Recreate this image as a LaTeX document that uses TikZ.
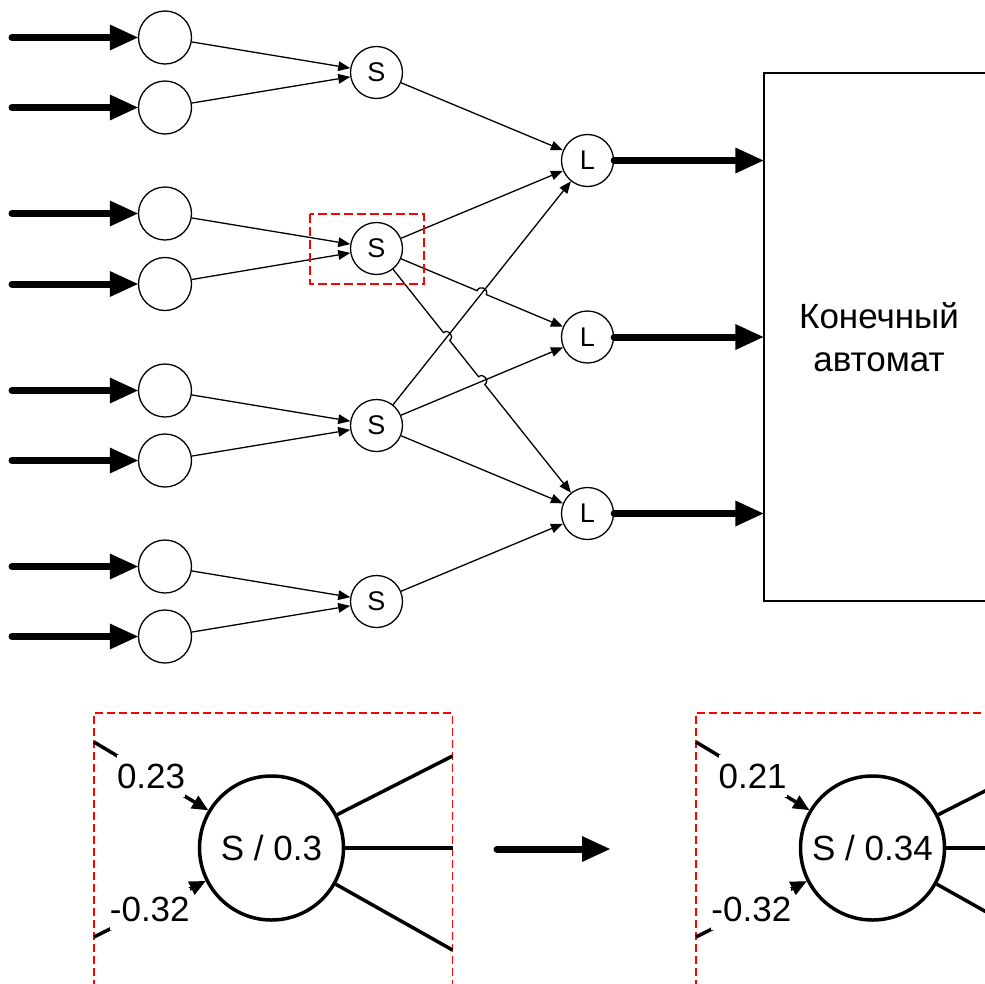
\documentclass[tikz,border=0pt]{standalone}
\usepackage{fontspec}
\setmainfont{Liberation Sans}
\usetikzlibrary{arrows.meta,calc}
\begin{document}
\begin{tikzpicture}[x=1pt,y=-1pt,
  inp/.style={circle,draw,line width=1.3pt,minimum size=53pt,inner sep=0pt},
  neuron/.style={circle,draw,line width=1.3pt,minimum size=52pt,inner sep=0pt,
    font=\fontsize{27}{32}\selectfont},
  link/.style={line width=1.3pt,-{Triangle[length=12pt,width=10pt,line width=0pt]}},
  fat/.style={line width=7pt,line cap=round,-{Triangle[length=28pt,width=26pt,line width=0pt]}},
  selbox/.style={draw=red,line width=2pt,dash pattern=on 9pt off 4pt},
  panelbox/.style={draw=red,line width=1.8pt,dash pattern=on 8pt off 4pt},
  bigneuron/.style={circle,draw,line width=3.5pt,minimum size=144pt,inner sep=0pt,
    font=\fontsize{35}{40}\selectfont},
  wlink/.style={line width=3.5pt,-{Triangle[length=16pt,width=15pt,line width=0pt]}},
  wout/.style={line width=3.5pt},
  wlabel/.style={fill=white,inner sep=0pt,minimum height=42pt,
    font=\fontsize{35}{42}\selectfont}
]
\useasboundingbox (0,0) rectangle (985,983);
\clip (0,0) rectangle (985,983);

% input neurons
\node[inp] (I1) at (165,37.5) {};
\node[inp] (I2) at (165,107.5) {};
\node[inp] (I3) at (165,213.5) {};
\node[inp] (I4) at (165,284) {};
\node[inp] (I5) at (165,390.5) {};
\node[inp] (I6) at (165,460.5) {};
\node[inp] (I7) at (165,566.5) {};
\node[inp] (I8) at (165,636.5) {};

% summing neurons
\node[neuron] (S1) at (376.5,72.5) {S};
\node[neuron] (S2) at (376.5,248.5) {S};
\node[neuron] (S3) at (376.5,425.5) {S};
\node[neuron] (S4) at (376.5,601.5) {S};

% output neurons
\node[neuron] (L1) at (587.5,160.5) {L};
\node[neuron] (L2) at (587.5,337) {L};
\node[neuron] (L3) at (587.5,513.5) {L};

% finite automaton
\node[draw,line width=1.3pt,minimum width=230pt,minimum height=528pt,inner sep=0pt,
  align=center,font=\fontsize{35}{43}\selectfont] (FA) at (879,337)
  {Конечный\\автомат};

% external inputs
\foreach \i/\y in {1/37.5,2/107.5,3/213.5,4/284,5/390.5,6/460.5,7/566.5,8/636.5}{
  \coordinate (a\i) at (12,\y);
  \draw[fat] (a\i) -- (I\i);
}

% inputs to summing neurons
\draw[link] (I1) -- (S1);
\draw[link] (I2) -- (S1);
\draw[link] (I3) -- (S2);
\draw[link] (I4) -- (S2);
\draw[link] (I5) -- (S3);
\draw[link] (I6) -- (S3);
\draw[link] (I7) -- (S4);
\draw[link] (I8) -- (S4);

% summing neurons to output neurons
\draw[link] (S1) -- (L1);
\draw[link] (S2) -- (L1);
\draw[link] (S3) -- (L1);
\draw[link] (S3) -- (L2);
\draw[link] (S3) -- (L3);
\draw[link] (S4) -- (L3);

% crossing points where lines hop over
\coordinate (x1) at ($(S2)!0.4986!(L2)$);
\coordinate (x1a) at ($(x1)!5pt!(S2)$);
\coordinate (x1b) at ($(x1)!5pt!(L2)$);
\coordinate (x2) at ($(S2)!0.332!(L3)$);
\coordinate (x2a) at ($(x2)!5pt!(S2)$);
\coordinate (x2b) at ($(x2)!5pt!(L3)$);
\coordinate (x3) at ($(S2)!0.4986!(L3)$);
\coordinate (x3a) at ($(x3)!5pt!(S2)$);
\coordinate (x3b) at ($(x3)!5pt!(L3)$);

\draw[link] (S2) -- (x1a)
  .. controls ($(x1a)!6.5pt!90:(x1)$) and ($(x1b)!6.5pt!-90:(x1)$) .. (x1b) -- (L2);
\draw[link] (S2) -- (x2a)
  .. controls ($(x2a)!6.5pt!90:(x2)$) and ($(x2b)!6.5pt!-90:(x2)$) .. (x2b) -- (x3a)
  .. controls ($(x3a)!6.5pt!90:(x3)$) and ($(x3b)!6.5pt!-90:(x3)$) .. (x3b) -- (L3);

% outputs to the automaton
\draw[fat] (L1) -- (L1 -| FA.west);
\draw[fat] (L2) -- (L2 -| FA.west);
\draw[fat] (L3) -- (L3 -| FA.west);

% selected neuron
\draw[selbox] (310,214) rectangle (424,284);

% detail: before
\draw[panelbox] (94,1000) -- (94,713) -- (452.5,713) -- (452.5,1000);
\node[bigneuron] (N1) at (271.5,848) {S / 0.3};
\coordinate (p1) at (94,742);
\coordinate (p2) at (94,937);
\draw[wlink] (p1) -- node[wlabel] {0.23} (N1);
\draw[wlink] (p2) -- node[wlabel] {-0.32} (N1);
\coordinate (q1) at (452.5,756);
\coordinate (q2) at (452.5,848);
\coordinate (q3) at (452.5,950);
\draw[wout] (N1) -- (q1);
\draw[wout] (N1) -- (q2);
\draw[wout] (N1) -- (q3);

% transition arrow
\coordinate (m1) at (497,849);
\coordinate (m2) at (610,849);
\draw[fat] (m1) -- (m2);

% detail: after
\draw[panelbox] (696,1000) -- (696,713) -- (1100,713);
\node[bigneuron] (N2) at (872.5,848) {S / 0.34};
\coordinate (p3) at (696,742);
\coordinate (p4) at (696,937);
\draw[wlink] (p3) -- node[wlabel] {0.21} (N2);
\draw[wlink] (p4) -- node[wlabel] {-0.32} (N2);
\coordinate (q4) at (1054,756);
\coordinate (q5) at (1054,848);
\coordinate (q6) at (1054,950);
\draw[wout] (N2) -- (q4);
\draw[wout] (N2) -- (q5);
\draw[wout] (N2) -- (q6);
\end{tikzpicture}
\end{document}
